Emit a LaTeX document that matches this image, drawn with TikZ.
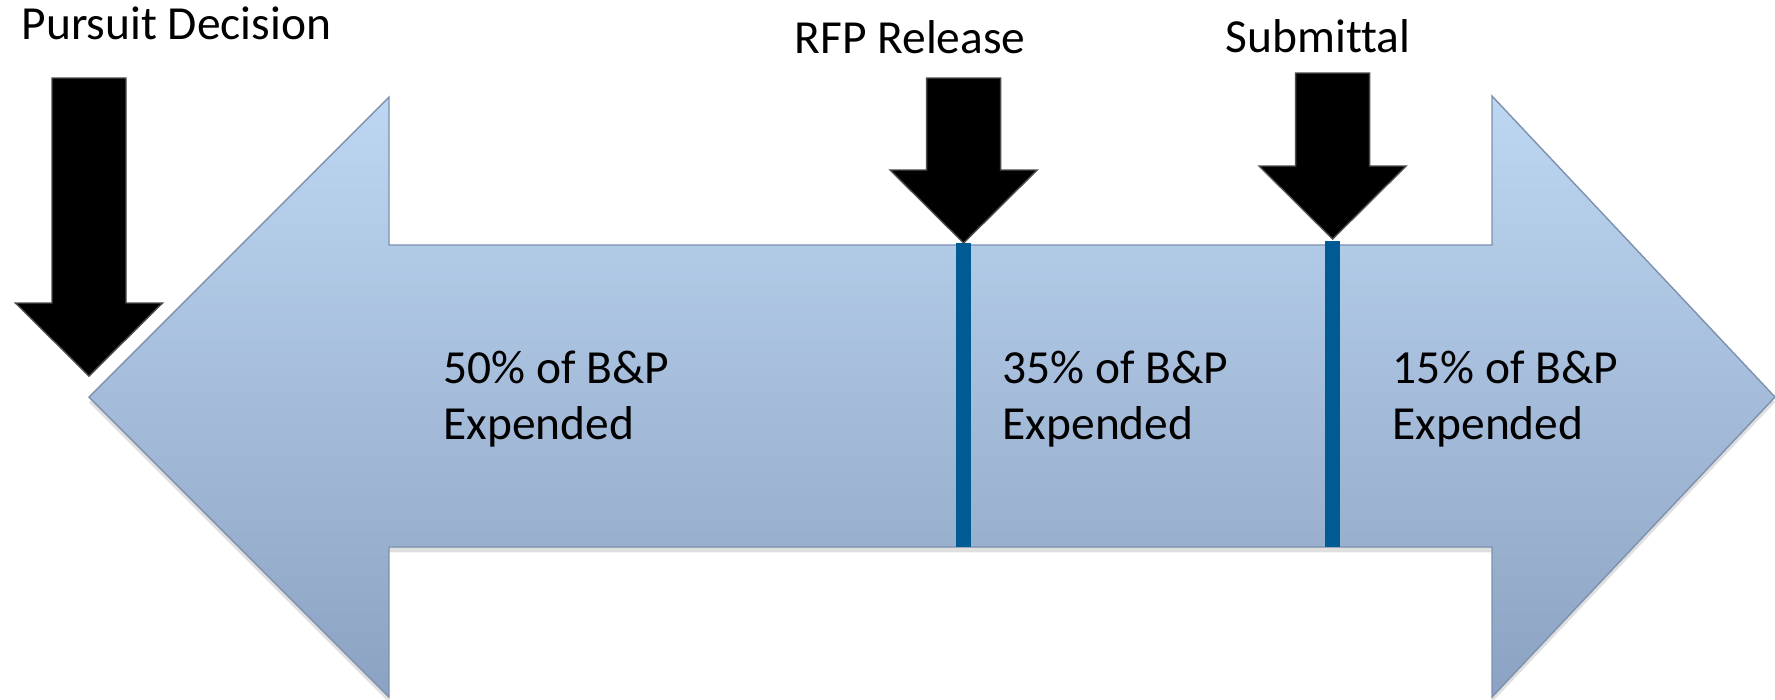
\documentclass[tikz,border=0pt]{standalone}
\usepackage{fontspec}
\setmainfont{Carlito}[Ligatures=NoCommon]
\usetikzlibrary{shadows}
\definecolor{bandtop}{RGB}{189,215,242}
\definecolor{bandbot}{RGB}{140,162,194}
\definecolor{bandedge}{RGB}{125,145,175}
\definecolor{divblue}{RGB}{0,90,148}
\def\droparrow[#1](#2:#3:#4){\draw[#1] (#2-37,#3) -- (#2+37,#3) -- (#2+37,#4-73) -- (#2+73.5,#4-73) -- (#2,#4) -- (#2-73.5,#4-73) -- (#2-37,#4-73) -- cycle;}
\tikzset{
	milestone/.style={inner sep=0pt, anchor=base, font=\fontsize{13.5}{15.9}\selectfont},
	share/.style={inner sep=0pt, anchor=base west, align=left, font=\fontsize{13.5}{15.9}\selectfont},
	band/.style={top color=bandtop, bottom color=bandbot, draw=bandedge, line width=0.4pt, drop shadow={opacity=0.25, shadow xshift=0pt, shadow yshift=-1.5pt}},
	divider/.style={divblue, line width=4.5pt},
	marker/.style={fill=black, draw=black!70, line width=0.4pt}
}

\begin{document}
\begin{tikzpicture}[x=0.01cm, y=-0.01cm]
			%%%%% START %%%%%
			\useasboundingbox (0,0) rectangle (1775,699);
			
			\draw[band] (89,397) -- (389,97) -- (389,245) -- (1492,245) -- (1492,96) -- (1775,397) -- (1492,697) -- (1492,547) -- (389,547) -- (389,697) -- cycle;
			
			\coordinate (rfp tip) at (963.5,243);
			\coordinate (rfp foot) at (963.5,547);
			\coordinate (sub tip) at (1332.5,241);
			\coordinate (sub foot) at (1332.5,547);
			\draw[divider] (rfp tip) -- (rfp foot);
			\draw[divider] (sub tip) -- (sub foot);
			
			\droparrow[marker](89:78:376)
			\droparrow[marker](963.6:78:243)
			\droparrow[marker](1332.6:73:239)
			
			\node[milestone] (pursuit) at (176.5,39) {Pursuit Decision};
			\node[milestone] (rfp) at (910,53) {RFP Release};
			\node[milestone] (submittal) at (1318,52) {Submittal};
			
			% base of a two-line node is its last line
			\node[share] (early) at (443,439) {50\% of B\&P\\Expended};
			\node[share] (middle) at (1002,439) {35\% of B\&P\\Expended};
			\node[share] (late) at (1392,439) {15\% of B\&P\\Expended};
			
			%%%%% END %%%%%
\end{tikzpicture}
\end{document}
